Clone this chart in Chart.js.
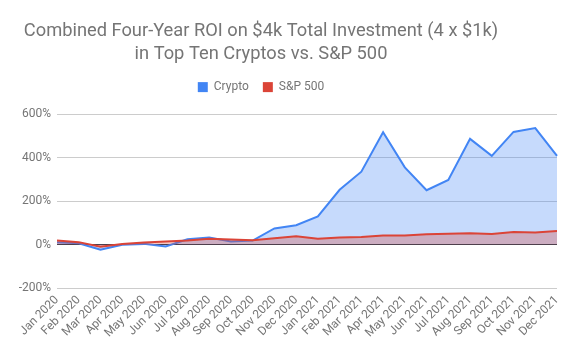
<!DOCTYPE html>
<html>
<head>
<meta charset="utf-8">
<script src="https://cdn.jsdelivr.net/npm/chart.js@4.4.1/dist/chart.umd.min.js"></script>
<style>
  html, body { margin: 0; padding: 0; background: #fff; }
  #wrap { width: 575px; height: 356px; position: relative; }
</style>
</head>
<body>
<div id="wrap"><canvas id="c" width="575" height="356"></canvas></div>
<script>
const months = ["Jan 2020","Feb 2020","Mar 2020","Apr 2020","May 2020","Jun 2020","Jul 2020","Aug 2020","Sep 2020","Oct 2020","Nov 2020","Dec 2020",
                "Jan 2021","Feb 2021","Mar 2021","Apr 2021","May 2021","Jun 2021","Jul 2021","Aug 2021","Sep 2021","Oct 2021","Nov 2021","Dec 2021"];
const cryptoROI = [11, 6, -24, -1, 3, -9, 24, 32, 14, 18, 74, 89, 129, 252, 335, 517, 355, 250, 297, 486, 408, 518, 536, 408];
const sp500ROI  = [18, 11, -10, 2, 9, 14, 18, 27, 23, 20, 29, 38, 27, 32, 35, 41, 42, 47, 50, 52, 49, 58, 55, 62];
const yTicks = [-200, 0, 200, 400, 600];

const gray = '#757575';

// Center title & legend over the left 522px (as in the reference) and lift the legend.
const headerPlugin = {
  id: 'headerPlugin',
  afterLayout(chart) {
    const t = chart.titleBlock, l = chart.legend;
    const L = 0, R = 522;
    if (t) { t.left = L; t.right = R; t.width = R - L; }
    if (l) { l.left = L; l.right = R; l.width = R - L; l.top -= 11; l.bottom -= 11; }
  }
};

new Chart(document.getElementById('c'), {
  type: 'line',
  data: {
    labels: months,
    datasets: [
      { label: 'Crypto', data: cryptoROI, borderColor: '#4285F4', backgroundColor: 'rgba(66,133,244,0.30)',
        fill: 'origin', borderWidth: 2, pointRadius: 0, tension: 0, order: 1 },
      { label: 'S&P 500', data: sp500ROI, borderColor: '#DB4437', backgroundColor: 'rgba(219,68,55,0.30)',
        fill: 'origin', borderWidth: 2, pointRadius: 0, tension: 0, order: 0 }
    ]
  },
  plugins: [headerPlugin],
  options: {
    responsive: false,
    animation: false,
    devicePixelRatio: 1,
    layout: { padding: { left: 0, right: 18, top: 0, bottom: 0 } },
    plugins: {
      title: {
        display: true,
        text: ['Combined Four-Year ROI on $4k Total Investment (4 x $1k)', 'in Top Ten Cryptos vs. S&P 500'],
        color: gray,
        font: { family: 'Roboto', size: 18.3, weight: 'normal', lineHeight: 1.26 },
        padding: { top: 20, bottom: 12 }
      },
      legend: {
        display: true,
        labels: {
          color: gray, font: { family: 'Roboto', size: 12 },
          boxWidth: 10, boxHeight: 10, padding: 14,
          sort: (a, b) => a.datasetIndex - b.datasetIndex,
          generateLabels: chart => {
            const items = Chart.defaults.plugins.legend.labels.generateLabels(chart);
            items.forEach(it => {
              const ds = chart.data.datasets[it.datasetIndex];
              it.fillStyle = ds.borderColor; it.strokeStyle = ds.borderColor; it.lineWidth = 0;
            });
            return items;
          }
        }
      },
      tooltip: { enabled: false }
    },
    scales: {
      x: {
        offset: false,
        grid: { display: false, drawTicks: false },
        border: { display: false },
        ticks: { color: gray, font: { family: 'Roboto', size: 12 }, maxRotation: 45, minRotation: 45, autoSkip: false, padding: 5 },
        afterFit: s => { s.height = 68; }
      },
      y: {
        min: -200, max: 600,
        afterBuildTicks: s => { s.ticks = yTicks.map(v => ({ value: v })); },
        grid: { color: ctx => ctx.tick && ctx.tick.value === 0 ? '#333333' : '#cccccc', lineWidth: 1, drawTicks: false },
        border: { display: false },
        ticks: { color: gray, font: { family: 'Roboto', size: 12 }, padding: 6, callback: v => v + '%' },
        afterFit: s => { s.width = 57; }
      }
    }
  }
});
</script>
</body>
</html>
